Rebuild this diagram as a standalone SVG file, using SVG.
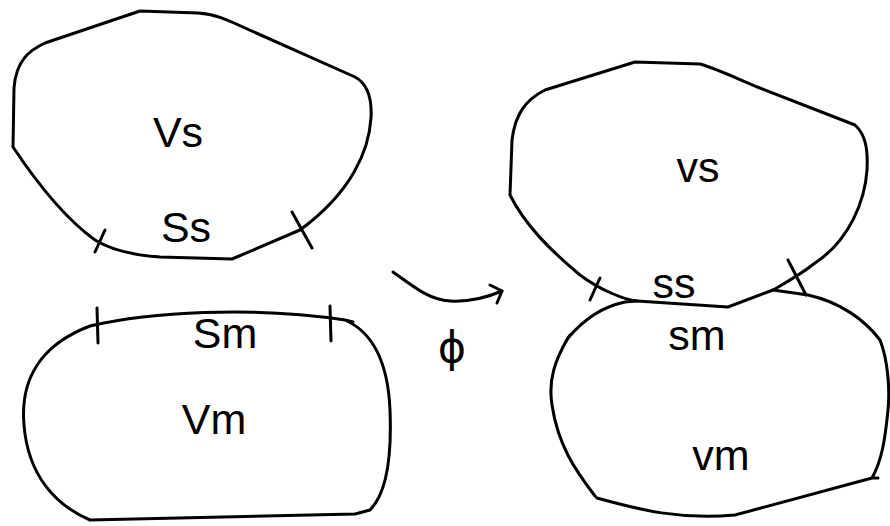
<svg xmlns="http://www.w3.org/2000/svg" width="890" height="526" viewBox="0 0 890 526">
<style>
.s{fill:none;stroke:#000;stroke-width:3;stroke-linejoin:round;stroke-linecap:round}
.t{font-family:"Liberation Sans",Arial,sans-serif;font-size:43px;fill:#000;text-anchor:middle}
</style>
<rect width="890" height="526" fill="#fff"/>
<g id="Vs">
<path class="s" d="M13,147 L14,88 C16,60 30,50 45,43 L140,11 L198,13 C215,14 228,20 245,28 L355,77 C368,84 372,100 371,118 C369,150 352,192 300,230 L232,259 L160,257 C130,255 108,248 95,240 C70,222 45,195 13,147 Z"/>
<path class="s" d="M105,230 L95,252 M292,212 L312,248"/>
<text class="t" x="178" y="147">Vs</text>
<text class="t" x="186" y="242">Ss</text>
</g>
<g id="Vm">
<path class="s" d="M90,326 C150,312 250,306 345,320 L353,322 M345,320 C372,332 388,362 390,410 C392,460 385,495 370,510 L355,514 L90,520 C55,505 28,475 24,425 C20,380 40,345 90,326"/>
<path class="s" d="M97,308 L98,343 M330,306 L331,341"/>
<text class="t" x="225" y="348">Sm</text>
<text class="t" x="214" y="434">Vm</text>
</g>
<g id="vs">
<path class="s" d="M510,195 L512,140 C515,115 525,100 545,90 L635,62 L700,64 C720,70 740,80 760,88 L855,125 C866,135 868,150 867,170 C865,200 850,240 815,263 C800,275 785,283 773,290 L728,307 L637,301 C625,300 600,290 580,275 C550,250 525,225 510,195 Z"/>
<path class="s" d="M600,278 L590,300 M788,260 L806,295"/>
<text class="t" x="698" y="182">vs</text>
<text class="t" x="674" y="298">ss</text>
</g>
<g id="vm">
<path class="s" d="M773,290 L808,295 C840,302 865,320 880,340 C888,360 890,390 888,410 C885,440 882,460 872,478 L878,478 M872,478 L735,515 C680,520 640,510 597,498 L595,496 C575,470 558,445 552,405 C548,380 555,360 568,338 C585,318 605,306 625,302 L637,301"/>
<path class="s" d="M566,341 L570,335"/>
<text class="t" x="697" y="350">sm</text>
<text class="t" x="721" y="470">vm</text>
</g>
<g id="connectors">
<path class="s" d="M393,272 C415,288 430,300 450,301 C470,302 488,297 502,291"/>
<path class="s" d="M490,285 L502,291 L497,303"/>
<text class="t" x="452" y="362" style="font-family:'DejaVu Sans',sans-serif">ϕ</text>
</g>
</svg>
